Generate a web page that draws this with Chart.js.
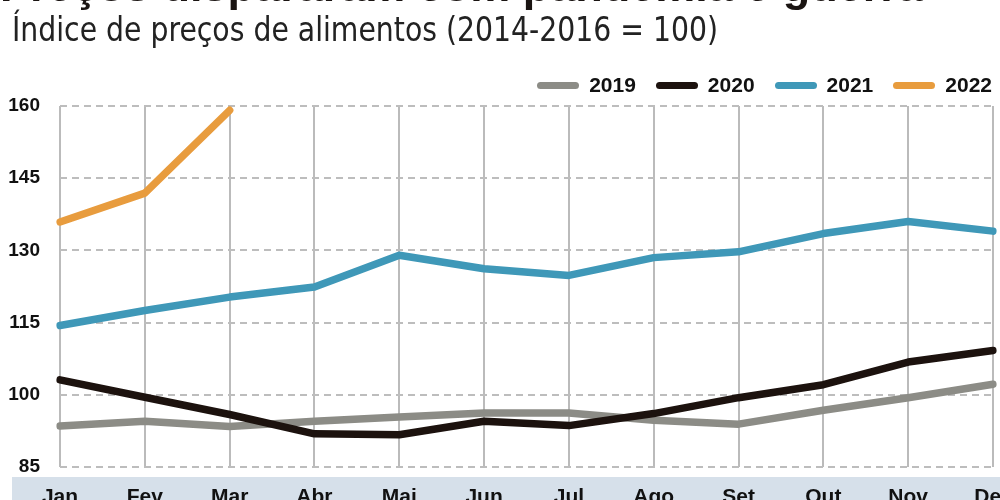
<!DOCTYPE html>
<html>
<head>
<meta charset="utf-8">
<script src="https://cdn.jsdelivr.net/npm/chart.js@4"></script>
<style>
	html, body { margin: 0; padding: 0; background: #fff; }
	#wrap { position: relative; width: 1000px; height: 500px; overflow: hidden; }
	#graph { position: absolute; left: 0; top: 0; }
	.title { position: absolute; left: 0; top: -37px; font: bold 45px/45px 'Liberation Sans', Arial, sans-serif; color: #1a1412; white-space: nowrap; }
	.subtitle { position: absolute; left: 12px; top: 13px; font: 33px/33px 'Liberation Sans Narrow', 'DejaVu Sans Condensed', sans-serif; color: #222; white-space: nowrap; transform-origin: 0 0; }
	#legend { position: absolute; right: 8px; top: 73px; display: flex; align-items: center; font: bold 21px/24px 'Liberation Sans', Arial, sans-serif; color: #111; }
	#legend .item { display: flex; align-items: center; margin-left: 20px; }
	#legend .sw { width: 42px; height: 7px; border-radius: 4px; margin-right: 10px; }
</style>
</head>
<body>
<div id="wrap">
	<canvas id="graph" width="1000" height="500"></canvas>
	<div class="title">Preços dispararam com pandemia e guerra</div>
	<div class="subtitle" id="subtitle">Índice de preços de alimentos (2014-2016 = 100)</div>
	<div id="legend"></div>
</div>
<script>
'use strict';

const months = ['Jan', 'Fev', 'Mar', 'Abr', 'Mai', 'Jun', 'Jul', 'Ago', 'Set', 'Out', 'Nov', 'Dez'];
const years = ['2019', '2020', '2021', '2022'];
const v2019 = [93.5, 94.5, 93.4, 94.5, 95.4, 96.2, 96.2, 94.7, 93.9, 96.8, 99.4, 102.2];
const v2020 = [103.1, 99.5, 95.9, 91.9, 91.7, 94.5, 93.6, 96.1, 99.4, 102.1, 106.8, 109.2];
const v2021 = [114.4, 117.5, 120.3, 122.4, 129.0, 126.2, 124.8, 128.5, 129.7, 133.5, 136.0, 134.0];
const v2022 = [135.9, 141.9, 159.1];
const yTicks = [85, 100, 115, 130, 145, 160];

const colors = ['#8c8c86', '#1c120e', '#3f98b8', '#e89c3e'];
const series = [v2019, v2020, v2021, v2022];

// legenda em HTML
const legend = document.getElementById('legend');
years.forEach((y, i) => {
	const item = document.createElement('div');
	item.className = 'item';
	item.innerHTML = '<span class="sw" style="background:' + colors[i] + '"></span>' + y;
	legend.appendChild(item);
});

// ajusta largura do subtítulo
const sub = document.getElementById('subtitle');
sub.style.transform = 'scaleX(' + (706 / sub.getBoundingClientRect().width) + ')';

// faixa cinza-azulada atrás dos meses
const bandPlugin = {
	id: 'band',
	beforeDraw(chart) {
		const ctx = chart.ctx;
		ctx.save();
		ctx.fillStyle = '#d6e0ea';
		ctx.fillRect(12, 477, 988, 23);
		ctx.restore();
	}
};

let config = {
	type: 'line',
	data: {
		labels: months,
		datasets: series.map((d, i) => ({
			label: years[i],
			data: d,
			borderColor: colors[i],
			backgroundColor: colors[i],
			borderWidth: 7.5,
			borderCapStyle: 'round',
			borderJoinStyle: 'round',
			pointRadius: 0,
			tension: 0,
			order: 4 - i
		}))
	},
	options: {
		responsive: false,
		animation: false,
		layout: { padding: { top: 106, right: 7, left: 0, bottom: 0 } },
		plugins: {
			legend: { display: false },
			tooltip: { enabled: false }
		},
		scales: {
			x: {
				grid: { color: '#bbbbbb', lineWidth: 2, drawTicks: false },
				border: { display: false },
				ticks: {
					autoSkip: false,
					maxRotation: 0,
					padding: 18,
					color: '#111',
					font: { family: 'Liberation Sans', weight: 'bold', size: 21 }
				},
				afterFit: (s) => { s.height = 33; s.paddingLeft = 0; s.paddingRight = 0; }
			},
			y: {
				min: 85,
				max: 160,
				afterBuildTicks: (s) => { s.ticks = yTicks.map(v => ({ value: v })); },
				grid: { color: '#bdbdbd', lineWidth: 2, drawTicks: false },
				border: { display: false, dash: [7, 5] },
				ticks: {
					padding: 20,
					color: '#111',
					font: { family: 'Liberation Sans', weight: 'bold', size: 19 }
				},
				afterFit: (s) => { s.width = 60; }
			}
		}
	},
	plugins: [bandPlugin]
};

window.addEventListener('load', function() {
	const ctx = document.getElementById('graph').getContext('2d');
	const graph = new Chart(ctx, config);
}, false);
</script>
</body>
</html>
